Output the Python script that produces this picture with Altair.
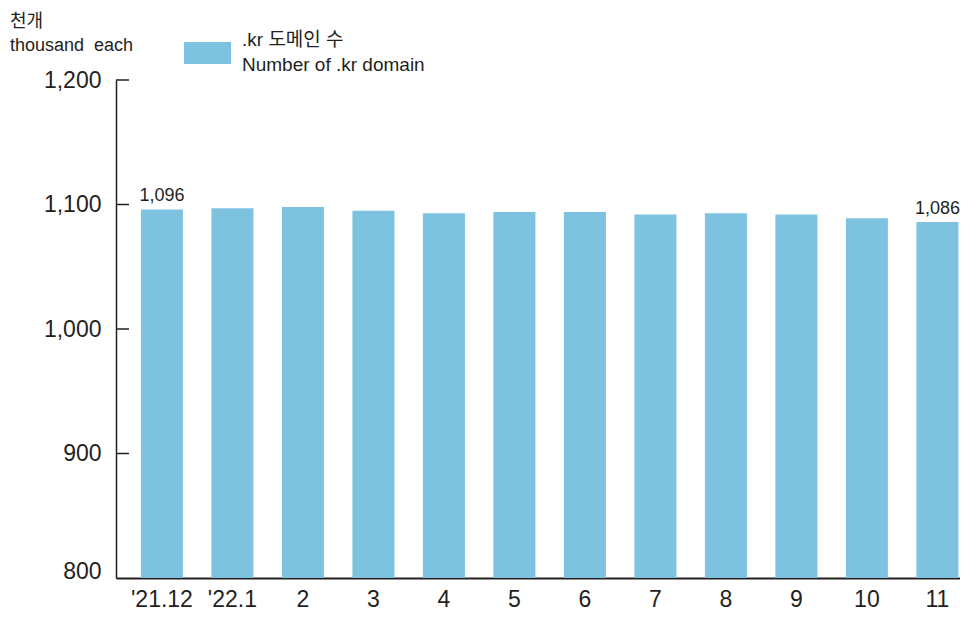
import altair as alt
import pandas as pd

# ---- data ----
months = ["'21.12", "'22.1", "2", "3", "4", "5", "6", "7", "8", "9", "10", "11"]
domains = [1096, 1097, 1098, 1095, 1093, 1094, 1094, 1092, 1093, 1092, 1089, 1086]
labelled = ["'21.12", "11"]
y_ticks = [800, 900, 1000, 1100, 1200]
inner_ticks = [900, 1000, 1100, 1200]
unit_lines = ["천개", "thousand\u00a0 each"]
legend_lines = [".kr 도메인 수", "Number of .kr domain"]

BAR = "#7DC3E0"
INK = "#231F20"
FONT = "Liberation Sans, Noto Sans CJK KR"

df = pd.DataFrame({"month": months, "value": domains})
df["label"] = [f"{v:,}" if m in labelled else "" for m, v in zip(months, domains)]
tick_df = pd.DataFrame({"value": inner_ticks})

yscale = alt.Scale(domain=[800, 1200], nice=False, zero=False)
xenc = alt.X(
    "month:N",
    sort=months,
    scale=alt.Scale(paddingInner=0.404, paddingOuter=0.188, align=0.94),
    axis=alt.Axis(
        title=None, labelAngle=0, tickSize=0, domainColor=INK, domainWidth=2,
        labelFont=FONT, labelFontSize=23, labelColor=INK, labelPadding=10,
    ),
)
yenc = alt.Y(
    "value:Q",
    scale=yscale,
    axis=alt.Axis(
        title=None, values=y_ticks, format=",d", tickSize=0, grid=False,
        domainColor=INK, domainWidth=1.5, labelFont=FONT, labelFontSize=23,
        labelColor=INK, labelPadding=15,
        labelBaseline=alt.ExprRef(expr="datum.value == 800 ? 'alphabetic' : 'middle'"),
    ),
)

bars = alt.Chart(df).mark_bar(color=BAR).encode(x=xenc, y=yenc, y2=alt.datum(800))

values = alt.Chart(df).mark_text(
    dy=-8, baseline="alphabetic", fontSize=18, font=FONT, color=INK
).encode(x=xenc, y=yenc, text="label:N")

ticks = alt.Chart(tick_df).mark_rule(color=INK, strokeWidth=1.5).encode(
    y=yenc, x=alt.value(0), x2=alt.value(13)
)


def note(text, x, y, size):
    return alt.Chart(pd.DataFrame({"t": [text]})).mark_text(
        align="left", baseline="alphabetic", font=FONT, fontSize=size, color=INK
    ).encode(x=alt.value(x), y=alt.value(y), text="t:N")


swatch = alt.Chart(pd.DataFrame({"a": [0]})).mark_rect(color=BAR).encode(
    x=alt.value(68), x2=alt.value(115), y=alt.value(-38), y2=alt.value(-16)
)

chart = alt.layer(
    bars, ticks, values,
    note(unit_lines[0], -106, -53, 18),
    note(unit_lines[1], -106, -29, 18),
    swatch,
    note(legend_lines[0], 126, -34, 19),
    note(legend_lines[1], 126, -9, 19),
).properties(
    width=844, height=498,
    autosize=alt.AutoSizeParams(type="none"),
    padding={"left": 108, "top": 72, "right": 0, "bottom": 34},
    background="white",
).configure_view(stroke=None)

chart.save("out.html", embed_options={"renderer": "svg", "actions": False})
